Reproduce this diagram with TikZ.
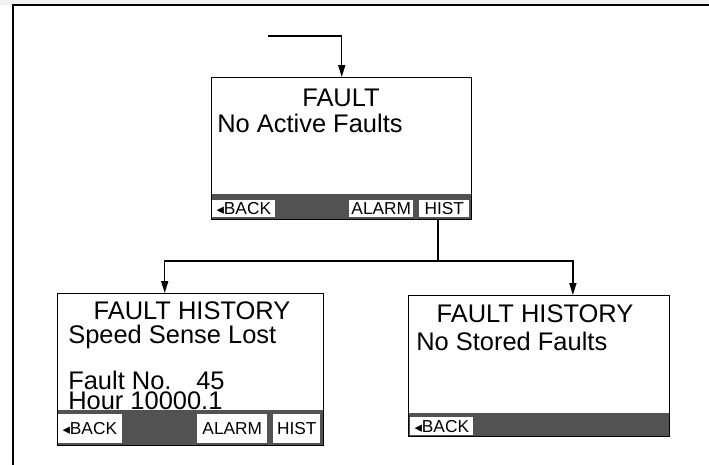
\documentclass[tikz,border=0pt]{standalone}
\usepackage{fontspec}
\setmainfont{Liberation Sans}
\newfontfamily\symfont{DejaVu Sans}
\usetikzlibrary{arrows.meta, positioning, calc}
\definecolor{batang}{RGB}{82,82,82}
\definecolor{latar}{RGB}{241,241,241}

\tikzset{
  layar/.style={draw, line width=1pt, anchor=north west, inner sep=0pt},
  tombol/.style={fill=white, inner sep=0pt, anchor=north west, font=\fontsize{12.3}{12}\selectfont},
  teks/.style={inner sep=0pt, font=\fontsize{18.1}{20}\selectfont},
  garis/.style={line width=1pt},
  panah/.style={line width=1pt, -{Triangle[width=5pt,length=8.5pt]}}
}
\newcommand{\kembali}{{\symfont\fontsize{10.5}{8}\selectfont ◂}BACK}

\begin{document}
\begin{tikzpicture}[x=0.025cm, y=-0.025cm]
  \useasboundingbox (0,0) rectangle (709,465);
  % bingkai
  \fill[latar] (0,0) rectangle (709,5);
  \draw[line width=1.3pt] (13,465) -- (13,5) -- (709,5);

  % batang tombol
  \fill[batang] (211,194) rectangle (471,219);
  \fill[batang] (57,410) rectangle (323,445);
  \fill[batang] (408,413) rectangle (669,436);

  % layar FAULT
  \node[tombol, minimum width=1.575cm, minimum height=0.425cm] (back1) at (212,200) {\kembali};
  \node[tombol, minimum width=1.6cm, minimum height=0.425cm] (alarm1) at (349,200) {ALARM};
  \node[tombol, minimum width=1.25cm, minimum height=0.425cm] (hist1) at (419,200) {HIST};
  \node[layar, minimum width=6.5cm, minimum height=3.55cm] (fault) at (211,77) {};
  \node[teks, anchor=base] (judul1) at (341,107) {FAULT};
  \node[teks, anchor=base west] (isi1) at (217,133) {No Active Faults};

  % layar FAULT HISTORY kiri
  \node[tombol, minimum width=1.625cm, minimum height=0.725cm] (back2) at (57,414) {\kembali};
  \node[tombol, minimum width=1.75cm, minimum height=0.725cm] (alarm2) at (197,414) {ALARM};
  \node[tombol, minimum width=1.175cm, minimum height=0.725cm] (hist2) at (273,414) {HIST};
  \node[layar, minimum width=6.65cm, minimum height=3.8cm] (histkiri) at (57,293) {};
  \node[teks, anchor=base] (judul2) at (192,319) {FAULT HISTORY};
  \node[teks, anchor=base west] (isi2) at (68,343) {Speed Sense Lost};
  \node[teks, anchor=base west, text height=0.45cm, text depth=0pt] (nomor2) at (68,389) {Fault No.\hspace{0.62cm}45};
  \node[teks, anchor=base west, text height=0.45cm, text depth=0pt] (jam2) at (68,409) {Hour 10000.1};

  % layar FAULT HISTORY kanan
  \node[tombol, minimum width=1.575cm, minimum height=0.45cm] (back3) at (410,417) {\kembali};
  \node[layar, minimum width=6.525cm, minimum height=3.525cm] (histkanan) at (408,295) {};
  \node[teks, anchor=base] (judul3) at (535,322) {FAULT HISTORY};
  \node[teks, anchor=base west] (isi3) at (416,350) {No Stored Faults};

  % penghubung
  \coordinate (masuk) at (268,36);
  \coordinate (cabang) at (438,261);
  \draw[panah] (masuk) -| (fault.north);
  \draw[garis] (fault.south -| cabang) -- (cabang);
  \draw[panah] (cabang) -| ([xshift=-0.65cm]histkiri.north);
  \draw[panah] (cabang) -| ([xshift=0.84cm]histkanan.north);
\end{tikzpicture}
\end{document}
